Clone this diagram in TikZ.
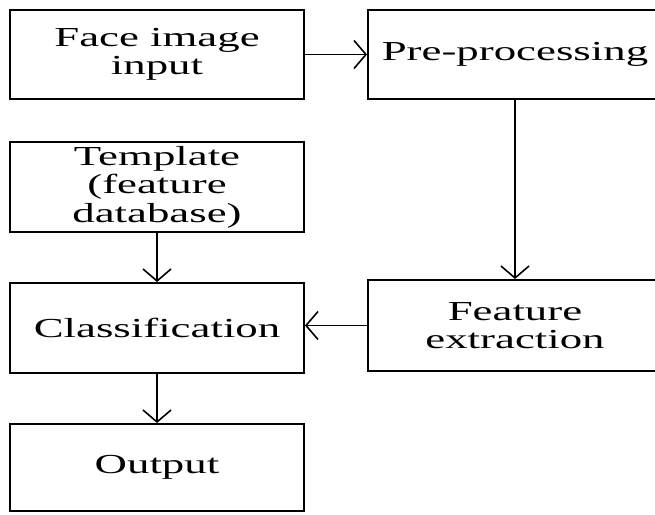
\documentclass[tikz,border=0pt]{standalone}
\usepackage{fontspec}
\setmainfont[FakeStretch=1.63]{Liberation Serif}
\usepackage{tikz}
\usetikzlibrary{arrows.meta,positioning,calc}
\tikzset{
  stage/.style={draw, line width=1.9pt, minimum width=294pt, inner sep=0pt, align=center,
    font=\fontsize{27.5}{28.5}\selectfont},
  flow/.style={-{Straight Barb[length=12pt, width=28pt, line width=1.6pt]}, line width=1.8pt},
}

\begin{document}
\begin{tikzpicture}[x=1pt, y=1pt]
\clip (0,0) rectangle (655,-514);
\useasboundingbox (0,0) rectangle (655,-514);
% --- top row: input and pre-processing ---
\node[stage, minimum height=89pt] (face) at (157,-54.5) {Face image\\input};
\node[stage, minimum height=89pt] (pre) at (515,-54.5) {Pre-processing};
% --- left column: template, classifier, output ---
\node[stage, minimum height=90pt] (tmpl) at (157,-187) {Template\\(feature\\database)};
\node[stage, minimum height=90pt] (cls) at (157,-328) {Classification};
\node[stage, minimum height=87pt] (out) at (157,-467.5) {Output};
% --- right column: feature extraction ---
\node[stage, minimum height=91pt] (feat) at (515,-325.5) {Feature\\extraction};
% --- connectors ---
\draw[flow] (face.east) -- (pre.west);
\draw[flow] (pre.south) -- (feat.north);
\draw[flow] (feat.west) -- (feat.west -| cls.east);
\draw[flow] (tmpl.south) -- (cls.north);
\draw[flow] (cls.south) -- (out.north);
\end{tikzpicture}
\end{document}
